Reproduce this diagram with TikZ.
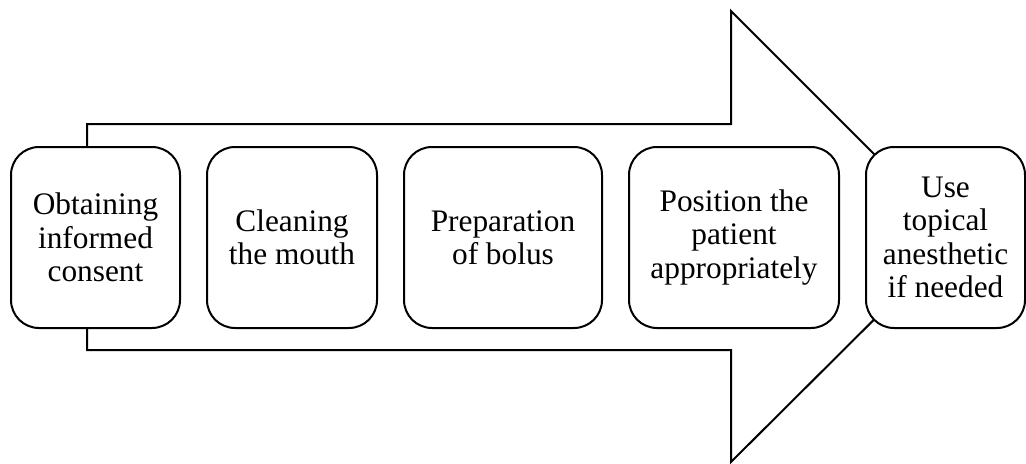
\documentclass[tikz,border=0pt]{standalone}
\usepackage{fontspec}
\setmainfont{Liberation Serif}
\begin{document}
\begin{tikzpicture}[x=0.75pt,y=-0.75pt,
  line width=1.5pt, line join=miter,
  stepbox/.style={draw=black, fill=white, rounded corners=21pt,
    minimum height=181*0.75pt, inner sep=0pt, align=center,
    font=\fontsize{23.5pt}{25pt}\selectfont, anchor=west}]
\useasboundingbox (0,0) rectangle (1026,464);
% big background arrow
\draw[fill=white] (87,124) -- (731,124) -- (731,11) -- (957,237)
  -- (731,462) -- (731,350) -- (87,350) -- cycle;
% process steps
\node[stepbox, minimum width=169*0.75pt] (s1) at (10,237.5) {Obtaining\\informed\\consent};
\node[stepbox, minimum width=170*0.75pt] (s2) at (206,237.5) {Cleaning\\the mouth};
\node[stepbox, minimum width=198*0.75pt] (s3) at (403,237.5) {Preparation\\of bolus};
\node[stepbox, minimum width=210*0.75pt] (s4) at (628,237.5) {Position the\\patient\\appropriately};
\node[stepbox, minimum width=159*0.75pt] (s5) at (865,237.5) {Use\\topical\\anesthetic\\if needed};
\end{tikzpicture}
\end{document}
